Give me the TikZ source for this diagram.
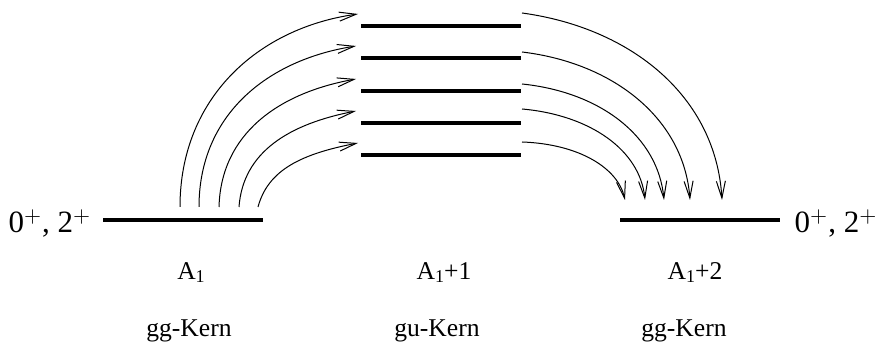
\documentclass[tikz,border=0pt]{standalone}
\usepackage{fontspec}
\setmainfont{Liberation Serif}
\usetikzlibrary{arrows.meta}
\newcommand{\subone}{\raisebox{-1.2pt}{\fontsize{9}{9}\selectfont 1}}
\begin{document}
\begin{tikzpicture}[x=0.5pt,y=-0.5pt,
  level/.style={fill=black,inner sep=0pt,minimum width=80pt,minimum height=2pt},
  arr/.style={line width=0.5pt,-{Straight Barb[length=8.5pt,width=4.5pt]}},
  lbl/.style={anchor=base,inner sep=0pt,font=\fontsize{12.8}{15}\selectfont},
  spin/.style={anchor=base,inner sep=0pt,font=\fontsize{15.5}{18}\selectfont}]
\useasboundingbox (0,0) rectangle (875,356);
% levels
\node[level] (L) at (183,220) {};
\node[level] (M1) at (441,26) {};
\node[level] (M2) at (441,58) {};
\node[level] (M3) at (441,91) {};
\node[level] (M4) at (441,123) {};
\node[level] (M5) at (441,155) {};
\node[level] (R) at (700,220) {};
% spin labels
\node[spin] (sl) at (50,233) {0$^+$, 2$^+$};
\node[spin] (sr) at (836,233) {0$^+$, 2$^+$};
% labels
\node[lbl] (a1) at (191,280) {A\subone};
\node[lbl] (a2) at (444,280) {A\subone+1};
\node[lbl] (a3) at (695,280) {A\subone+2};
\node[lbl] (k1) at (189,337) {gg-Kern};
\node[lbl] (k2) at (437,337) {gu-Kern};
\node[lbl] (k3) at (684,337) {gg-Kern};
% arrow end points
\coordinate (s1) at (180,207); \coordinate (e1) at (358,14);
\coordinate (s2) at (199,207); \coordinate (e2) at (356,46);
\coordinate (s3) at (219,207); \coordinate (e3) at (356,79);
\coordinate (s4) at (239,207); \coordinate (e4) at (356,111);
\coordinate (s5) at (258,207); \coordinate (e5) at (358,143);
\coordinate (t1) at (522,13);  \coordinate (f1) at (722,200);
\coordinate (t2) at (522,52);  \coordinate (f2) at (690,200);
\coordinate (t3) at (522,84);  \coordinate (f3) at (664,200);
\coordinate (t4) at (522,109); \coordinate (f4) at (645,200);
\coordinate (t5) at (522,142); \coordinate (f5) at (625,200);
% left arrows
\draw[arr] (s1) .. controls (180,98) and (258,28) .. (e1);
\draw[arr] (s2) .. controls (199,115) and (267,60) .. (e2);
\draw[arr] (s3) .. controls (221,134) and (278,93) .. (e3);
\draw[arr] (s4) .. controls (243,152) and (289,124) .. (e4);
\draw[arr] (s5) .. controls (268,170) and (301,154) .. (e5);
% right arrows
\draw[arr] (t1) .. controls (632,28) and (716,97) .. (f1);
\draw[arr] (t2) .. controls (614,63) and (684,119) .. (f2);
\draw[arr] (t3) .. controls (600,92) and (658,136) .. (f3);
\draw[arr] (t4) .. controls (590,115) and (640,150) .. (f4);
\draw[arr] (t5) .. controls (579,144) and (618,168) .. (f5);
\end{tikzpicture}
\end{document}
